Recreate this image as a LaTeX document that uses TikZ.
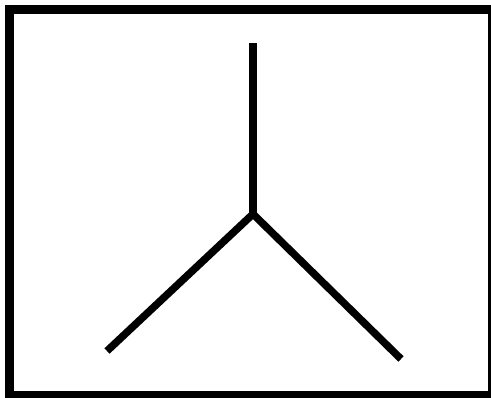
\documentclass[tikz,border=0pt]{standalone}
\begin{document}
\begin{tikzpicture}[x=1pt,y=-1pt,
  frame/.style={draw=black,line width=9pt},
  stroke/.style={draw=black,line width=7.5pt,line cap=butt,line join=miter}]
\useasboundingbox (0,0) rectangle (491,398);
\clip (0,0) rectangle (491,398);
\fill[white] (0,0) rectangle (491,398);
\draw[frame] (9.5,9.5) rectangle (492.5,395.5);
\coordinate (c) at (253,214);
\coordinate (top) at (253,43);
\coordinate (l) at (107,351);
\coordinate (r) at (401,359);
\draw[stroke] (top) -- (c);
\draw[stroke] (l) -- (c) -- (r);
\end{tikzpicture}
\end{document}
